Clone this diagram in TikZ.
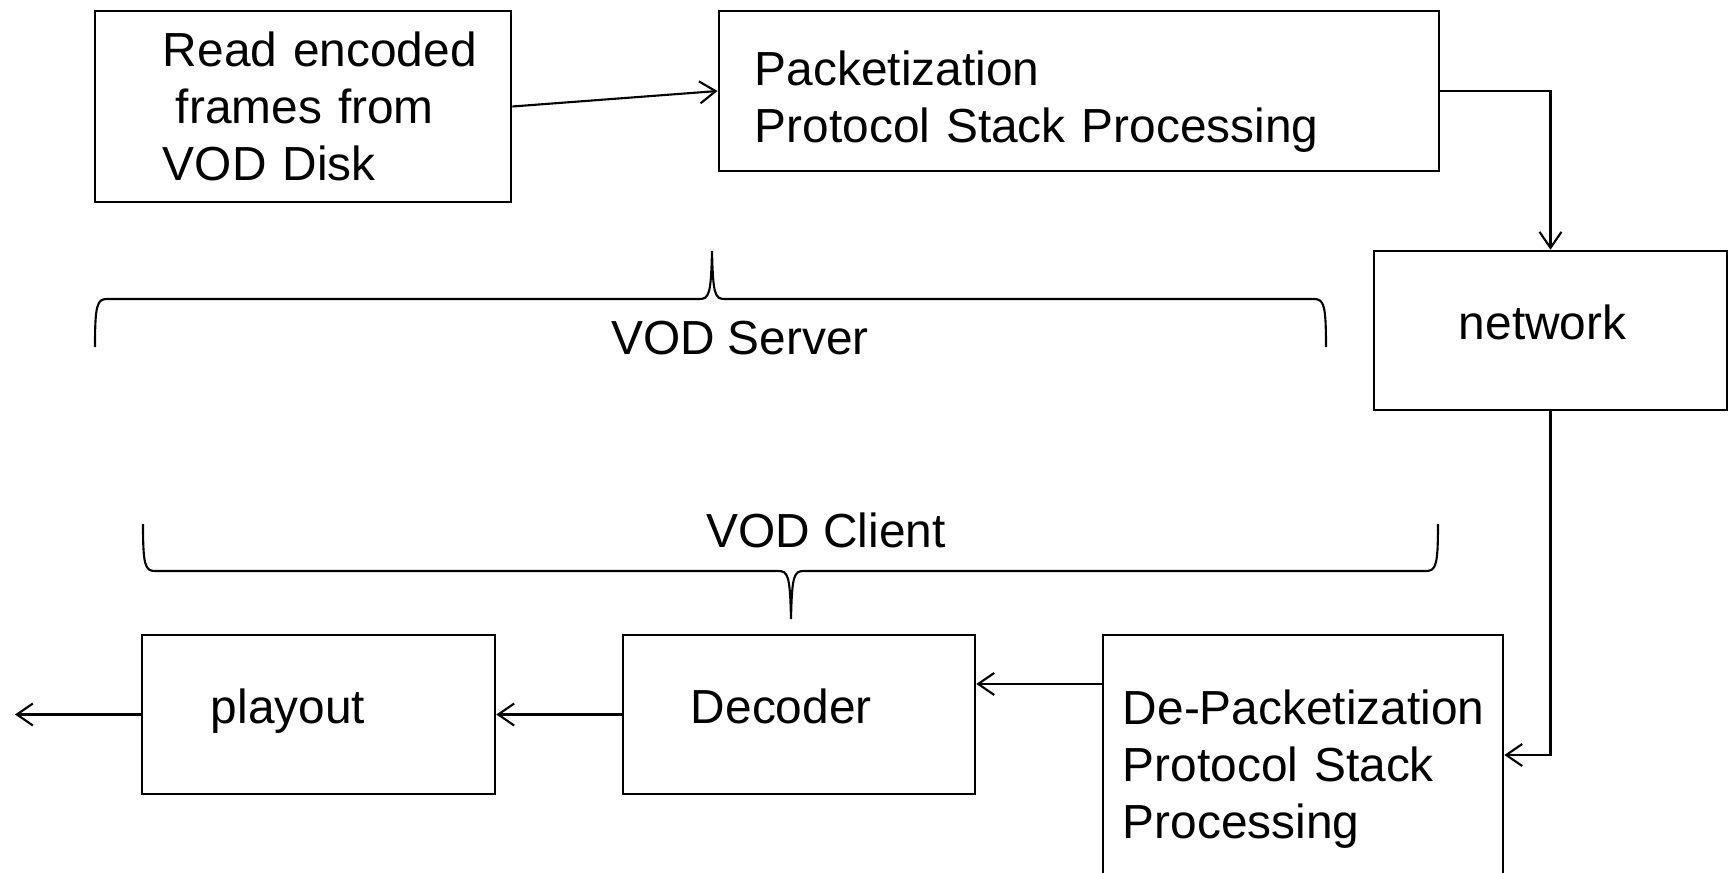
\documentclass[tikz,border=0pt]{standalone}
\usepackage{fontspec}
\setmainfont{Liberation Sans}
\usetikzlibrary{arrows.meta}

\begin{document}
\begin{tikzpicture}[x=0.01cm,y=-0.01cm,font=\fontsize{13.6}{16.2}\selectfont]
		\useasboundingbox (0,0) rectangle (1729,872);
		\begin{scope}[every node/.style={draw,line width=0.7pt,align=left}]
		    \node[minimum height=1.91cm,text width=2.8cm,inner xsep=0.68cm] (disk) at (303,106.5) {\mbox{Read encoded}\\\mbox{\hspace*{0.13cm}frames from}\\\mbox{VOD Disk}};
		    \node[minimum height=1.6cm,text width=6.48cm,inner xsep=0.36cm,text height=0.55cm] (pack) at (1079,91) {Packetization\\\mbox{Protocol Stack Processing}};
		    \node[minimum height=1.59cm,text width=1.83cm,inner xsep=0.85cm,text height=0.35cm,text depth=0.17cm] (net) at (1550.5,330.5) {network};
		    \node[minimum height=2.58cm,text width=3.6cm,inner xsep=0.2cm,text height=0.44cm] (depack) at (1303,764) {\mbox{De-Packetization}\\Protocol Stack\\Processing};
		    \node[minimum height=1.59cm,text width=2.16cm,inner xsep=0.68cm,text height=0.35cm,text depth=0.17cm] (dec) at (799,714.5) {Decoder};
		    \node[minimum height=1.59cm,text width=2.15cm,inner xsep=0.69cm,text height=0.35cm,text depth=0.17cm] (play) at (318.5,714.5) {playout};
		\end{scope}
		
		% braces
		\node (srv) at (740,338.5) {VOD Server};
		\node (cli) at (826,530) {VOD Client};
		\draw[line width=0.6pt] (95,347) .. controls (95,305) and (97,299) .. (107,299) -- (699,299)
			.. controls (709,299) and (711,295) .. (712,251) .. controls (713,295) and (715,299) .. (725,299)
			-- (1314,299) .. controls (1324,299) and (1326,305) .. (1326,347);
		\draw[line width=0.6pt] (143,524) .. controls (143,565) and (145,571) .. (155,571) -- (778,571)
			.. controls (788,571) and (790,575) .. (791,619) .. controls (792,575) and (794,571) .. (804,571)
			-- (1426,571) .. controls (1436,571) and (1438,565) .. (1438,524);
		
		\begin{scope}[>={Straight Barb[length=1.6mm,width=2.2mm]},line width=0.6pt]
		    \coordinate (dp-out) at ([yshift=0.8cm]depack.west);
		    \coordinate (out) at (15,714.5);
		    \draw[->] (disk.east) -- (pack.west);
		    \draw[->] (pack.east) -| (net.north);
		    \draw[->] (net.south) |- ([yshift=0.09cm]depack.east);
		    \draw[->] (dp-out) -- (dp-out -| dec.east);
		    \draw[->] (dec.west) -- (play.east);
		    \draw[->] (play.west) -- (out);
		\end{scope}
\end{tikzpicture}
\end{document}
